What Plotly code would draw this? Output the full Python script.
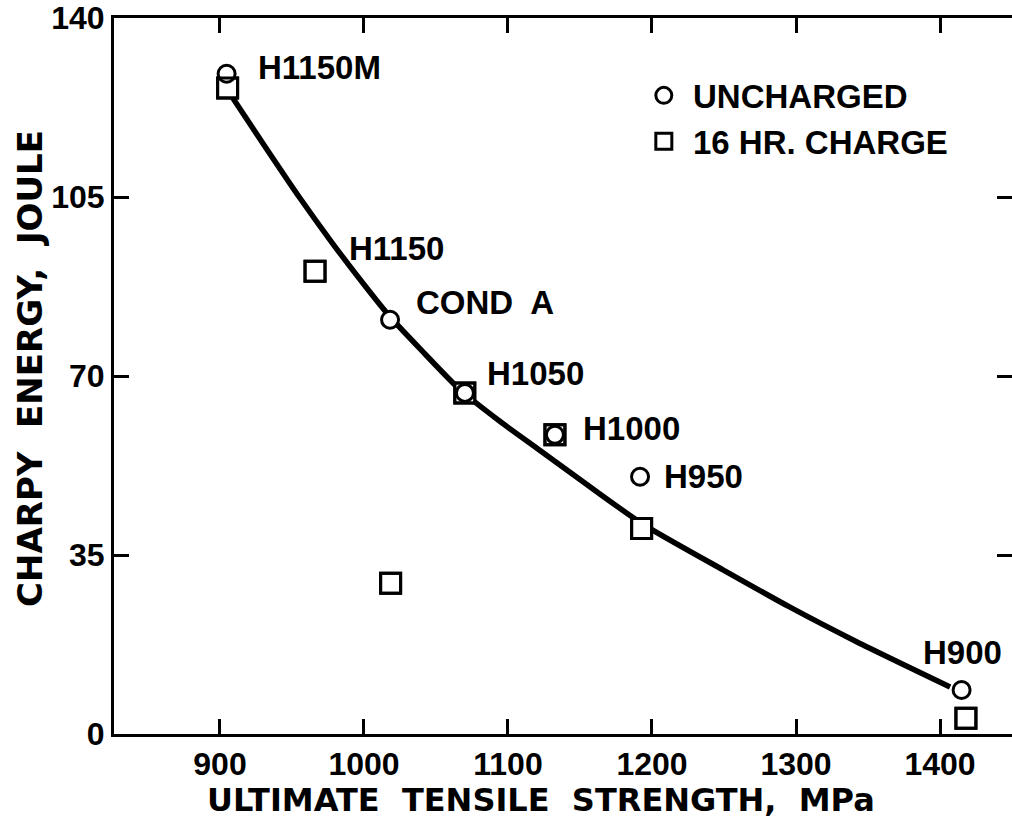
import plotly.graph_objects as go

# ---- data ----
uncharged_x = [904.6, 1018.1, 1070.1, 1132.6, 1191.7, 1415.0]
uncharged_y = [129.1, 81.0, 66.7, 58.5, 50.3, 8.6]

charged_x = [905.3, 966.0, 1018.5, 1070.0, 1132.6, 1192.8, 1418.0]
charged_y = [126.3, 90.5, 29.5, 66.7, 58.5, 40.2, 3.1]

curve_x = [908.3, 932.4, 955.0, 978.0, 1001.9, 1018.0, 1040.0, 1066.7, 1095.0,
           1122.0, 1160.0, 1193.8, 1249.3, 1295.8, 1342.4, 1407.0]
curve_y = [124.6, 114.4, 105.0, 96.0, 87.2, 81.6, 75.0, 67.3, 61.0,
           55.5, 47.7, 41.0, 32.1, 24.8, 18.0, 9.2]

label_text = ["H1150M", "H1150", "COND  A", "H1050", "H1000", "H950", "H900"]
label_x = [968.8, 1022.9, 1084.0, 1118.8, 1186.1, 1236.1, 1415.3]
label_y = [130.3, 95.0, 84.3, 70.4, 59.8, 50.3, 16.0]

x_ticks = [900, 1000, 1100, 1200, 1300, 1400]
y_ticks = [0, 35, 70, 105, 140]

series_names = ["UNCHARGED", "16 HR. CHARGE"]
x_title = "ULTIMATE  TENSILE  STRENGTH,  MPa"
y_title = "CHARPY  ENERGY,  JOULE"

# ---- styling ----
FONT = "Liberation Sans, Arial, Helvetica, sans-serif"
TFONT = "DejaVu Sans, Verdana, sans-serif"

fig = go.Figure()

fig.add_trace(go.Scatter(
    x=curve_x, y=curve_y, mode="lines",
    line=dict(color="black", width=5.5, shape="spline", smoothing=0.6),
    showlegend=False, hoverinfo="skip"))

fig.add_trace(go.Scatter(
    x=charged_x, y=charged_y, mode="markers", name="\u00a0" + series_names[1],
    marker=dict(symbol="square", size=20, color="white",
                line=dict(color="black", width=3))))

fig.add_trace(go.Scatter(
    x=uncharged_x, y=uncharged_y, mode="markers", name="\u00a0" + series_names[0],
    marker=dict(symbol="circle", size=17, color="white",
                line=dict(color="black", width=3))))

# square outlines redrawn on top so overlapping symbols both stay visible
fig.add_trace(go.Scatter(
    x=charged_x, y=charged_y, mode="markers", showlegend=False, hoverinfo="skip",
    marker=dict(symbol="square-open", size=20, color="black",
                line=dict(color="black", width=3))))

# invisible trace to carry right-hand y ticks
fig.add_trace(go.Scatter(x=[None], y=[None], yaxis="y2", showlegend=False))

for t, x, y in zip(label_text, label_x, label_y):
    fig.add_annotation(x=x, y=y, text=t, showarrow=False,
                       xanchor="center", yanchor="middle",
                       font=dict(family=FONT, size=33, color="black", weight="bold"))

fig.add_annotation(xref="paper", yref="paper", x=0.4755, y=-0.0922,
                   text=x_title, showarrow=False, xanchor="center", yanchor="middle",
                   font=dict(family=TFONT, size=32, color="black", weight="bold"))
fig.add_annotation(xref="paper", yref="paper", x=-0.0935, y=0.5098,
                   text=y_title, textangle=-90, showarrow=False,
                   xanchor="center", yanchor="middle",
                   font=dict(family=TFONT, size=34, color="black", weight="bold"))

axis_common = dict(showgrid=False, zeroline=False, ticks="inside", ticklen=15,
                   tickwidth=3, tickcolor="black",
                   tickfont=dict(family=FONT, size=32, color="black", weight="bold"))

fig.update_layout(
    width=1012, height=825,
    margin=dict(l=114, r=0, t=18, b=91),
    paper_bgcolor="white", plot_bgcolor="white",
    xaxis=dict(range=[826.4, 1450], tickvals=x_ticks, showline=True,
               linecolor="black", linewidth=3, mirror="ticks", **axis_common),
    yaxis=dict(range=[0, 140], tickvals=y_ticks, showline=True,
               linecolor="black", linewidth=3, mirror=False, **axis_common),
    yaxis2=dict(range=[0, 140], tickvals=y_ticks[1:-1], overlaying="y",
                side="right", showline=False, showticklabels=False,
                **axis_common),
    legend=dict(x=0.590, y=0.931, xanchor="left", yanchor="top",
                bgcolor="rgba(0,0,0,0)",
                font=dict(family=FONT, size=33, color="black", weight="bold"),
                traceorder="reversed", itemwidth=30, tracegroupgap=0),
    showlegend=True,
)

fig.write_html("out.html")
